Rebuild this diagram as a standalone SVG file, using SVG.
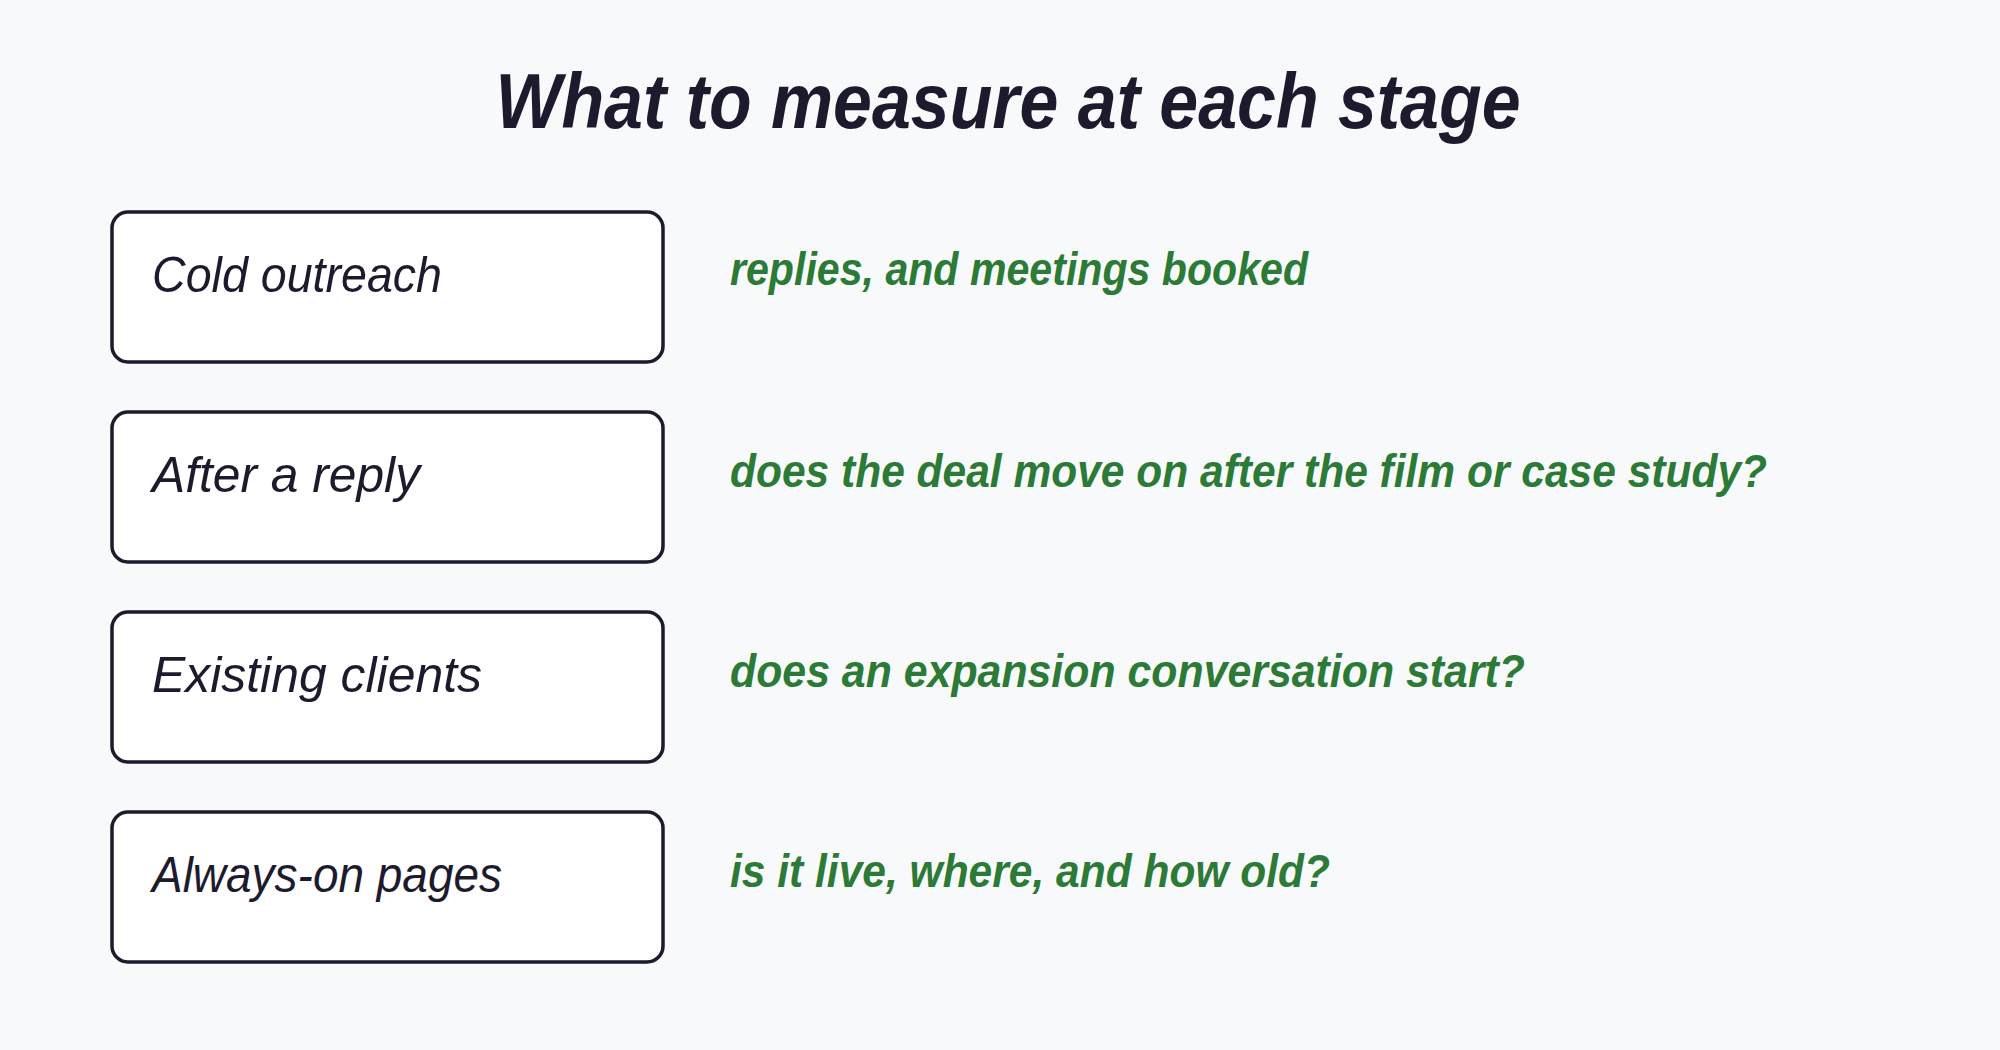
<svg xmlns="http://www.w3.org/2000/svg" width="2000" height="1050" viewBox="0 0 2000 1050">
<style>
.box{fill:#fff;stroke:#1e1a2e;stroke-width:3.5}
.lbl{font-family:"Liberation Sans",sans-serif;font-style:italic;font-size:50px;fill:#1e1a2e}
.note{font-family:"Liberation Sans",sans-serif;font-style:italic;font-weight:bold;font-size:46px;fill:#2b7a36}
.title{font-family:"Liberation Sans",sans-serif;font-style:italic;font-weight:bold;font-size:78px;fill:#1e1a2e}
</style>
<rect width="2000" height="1050" fill="#f8f9fa"/>
<text class="title" x="1008" y="128" text-anchor="middle" textLength="1025" lengthAdjust="spacingAndGlyphs">What to measure at each stage</text>
<g id="n1"><rect class="box" x="112" y="212" width="551" height="150" rx="16"/><text class="lbl" x="152" y="292" textLength="290" lengthAdjust="spacingAndGlyphs">Cold outreach</text></g>
<g id="n2"><rect class="box" x="112" y="412" width="551" height="150" rx="16"/><text class="lbl" x="152" y="492" textLength="268" lengthAdjust="spacingAndGlyphs">After a reply</text></g>
<g id="n3"><rect class="box" x="112" y="612" width="551" height="150" rx="16"/><text class="lbl" x="152" y="692" textLength="330" lengthAdjust="spacingAndGlyphs">Existing clients</text></g>
<g id="n4"><rect class="box" x="112" y="812" width="551" height="150" rx="16"/><text class="lbl" x="152" y="892" textLength="350" lengthAdjust="spacingAndGlyphs">Always-on pages</text></g>
<g id="notes">
<text class="note" x="730" y="285" textLength="578" lengthAdjust="spacingAndGlyphs">replies, and meetings booked</text>
<text class="note" x="730" y="487" textLength="1037" lengthAdjust="spacingAndGlyphs">does the deal move on after the film or case study?</text>
<text class="note" x="730" y="687" textLength="795" lengthAdjust="spacingAndGlyphs">does an expansion conversation start?</text>
<text class="note" x="730" y="887" textLength="600" lengthAdjust="spacingAndGlyphs">is it live, where, and how old?</text>
</g>
<g id="connectors"/>
</svg>
